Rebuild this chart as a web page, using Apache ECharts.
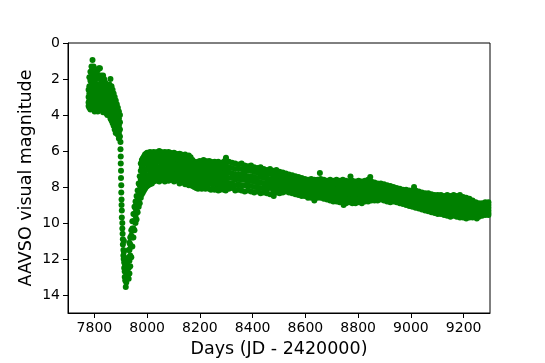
<!DOCTYPE html>
<html>
<head>
<meta charset="utf-8">
<script src="https://cdn.jsdelivr.net/npm/echarts@6/dist/echarts.min.js"></script>
<style>
  html, body { margin: 0; padding: 0; background: #fff; }
  #chart { width: 545px; height: 363px; }
</style>
</head>
<body>
<div id="chart"></div>
<script>
// tick labels
const xTicks = [7800, 8000, 8200, 8400, 8600, 8800, 9000, 9200];
const yTicks = [0, 2, 4, 6, 8, 10, 12, 14];

// light curve: each row is [day, mag, mag, ...]
const maximumCols = [
  [7778, 2.6, 3.0, 3.3, 3.5],
  [7781, 1.9, 2.4, 2.8, 3.2, 3.6],
  [7785, 1.6, 2.1, 2.6, 3.0, 3.4, 3.7],
  [7789, 1.3, 1.8, 2.3, 2.8, 3.2, 3.6],
  [7793, 0.95, 1.4, 2.0, 2.5, 3.0, 3.4],
  [7797, 1.3, 1.8, 2.2, 2.7, 3.1, 3.6],
  [7801, 1.7, 2.1, 2.5, 2.9, 3.3, 3.8],
  [7805, 1.9, 2.3, 2.7, 3.1, 3.5],
  [7809, 1.6, 2.0, 2.4, 2.8, 3.2, 3.7],
  [7813, 1.5, 1.9, 2.4, 2.9, 3.4, 3.8],
  [7817, 1.4, 1.8, 2.3, 2.7, 3.2, 3.6],
  [7821, 1.4, 2.0, 2.5, 2.9, 3.3, 3.7],
  [7825, 1.8, 2.3, 2.7, 3.1, 3.5],
  [7829, 2.1, 2.4, 2.8, 3.2, 3.6],
  [7833, 1.8, 2.2, 2.6, 3.0, 3.4, 3.85],
  [7837, 2.0, 2.4, 2.8, 3.2, 3.6],
  [7841, 2.2, 2.6, 3.0, 3.4, 3.8],
  [7845, 2.3, 2.7, 3.1, 3.5, 3.9],
  [7849, 2.5, 2.8, 3.2, 3.6, 4.0],
  [7853, 2.4, 2.8, 3.1, 3.5, 3.9],
  [7857, 2.3, 2.7, 3.1, 3.5, 4.0],
  [7861, 2.0, 2.5, 2.9, 3.4, 3.8, 4.2],
  [7865, 2.4, 2.8, 3.2, 3.6, 4.0, 4.3],
  [7869, 2.6, 3.0, 3.4, 3.8, 4.1, 4.45],
  [7873, 2.8, 3.2, 3.6, 4.0, 4.3, 4.6],
  [7877, 3.0, 3.4, 3.8, 4.2, 4.6, 4.8],
  [7881, 3.2, 3.6, 4.0, 4.4, 4.8, 5.0],
  [7885, 3.4, 3.8, 4.2, 4.6, 5.0],
  [7889, 3.6, 4.0, 4.4, 4.8, 5.1],
  [7893, 3.8, 4.2, 4.6, 5.0, 5.3],
  [7897, 4.0, 4.4, 4.8, 5.2]
];

const declineCols = [
  [7899, 5.5, 5.9],
  [7900, 6.3, 6.7],
  [7901, 7.1, 7.5],
  [7902, 7.9, 8.3],
  [7903, 8.7, 9.0],
  [7904, 9.3, 9.7],
  [7906, 10.0, 10.3],
  [7907, 10.6],
  [7908, 10.9, 11.2],
  [7910, 11.5, 11.8],
  [7911, 12.0],
  [7912, 11.0, 11.6],
  [7913, 12.2, 12.5],
  [7915, 12.7, 13.0],
  [7916, 12.0, 12.4],
  [7917, 13.2],
  [7919, 13.55]
];

const recoveryCols = [
  [7921, 13.3, 12.9],
  [7924, 13.1, 12.6, 12.3],
  [7927, 12.9, 12.4, 12.0],
  [7930, 13.1, 12.5, 11.9, 11.5],
  [7933, 12.8, 12.1, 11.5, 11.1],
  [7936, 12.4, 11.8, 11.2, 10.8],
  [7940, 11.9, 11.3, 10.7, 10.4],
  [7944, 11.3, 10.8, 10.3, 9.9],
  [7948, 10.8, 10.3, 9.9, 9.5],
  [7952, 10.4, 9.9, 9.5, 9.1],
  [7956, 10.0, 9.6, 9.2, 8.8],
  [7960, 9.8, 9.3, 8.9, 8.5],
  [7964, 9.4, 9.0, 8.6, 8.2],
  [7968, 9.1, 8.7, 8.2, 7.8],
  [7972, 8.9, 8.4, 7.9, 7.4],
  [7976, 8.6, 8.1, 7.6, 7.1, 6.7],
  [7980, 8.4, 7.9, 7.4, 6.9, 6.5],
  [7984, 8.3, 7.8, 7.3, 6.8, 6.4],
  [7988, 8.2, 7.7, 7.2, 6.7, 6.3],
  [7992, 8.1, 7.6, 7.1, 6.6, 6.2],
  [7996, 8.0, 7.5, 7.0, 6.5, 6.15],
  [8000, 7.95, 7.5, 7.0, 6.5, 6.1]
];

const plateauCols = [
  [8004, 6.15, 6.45, 6.75, 7.05, 7.35, 7.65, 7.9],
  [8011, 6.05, 6.35, 6.7, 7.0, 7.3, 7.6, 7.85],
  [8018, 6.1, 6.4, 6.65, 6.95, 7.25, 7.5, 7.8],
  [8025, 6.05, 6.35, 6.6, 6.9, 7.2, 7.45, 7.7],
  [8032, 6.1, 6.4, 6.7, 7.0, 7.3, 7.6],
  [8039, 6.05, 6.3, 6.6, 6.9, 7.15, 7.4, 7.65],
  [8046, 6.0, 6.3, 6.6, 6.9, 7.2, 7.5, 7.7],
  [8053, 6.05, 6.35, 6.65, 6.95, 7.25, 7.55],
  [8060, 6.1, 6.4, 6.7, 7.0, 7.3, 7.6],
  [8067, 6.05, 6.35, 6.6, 6.9, 7.2, 7.45, 7.7],
  [8074, 6.1, 6.4, 6.7, 7.0, 7.3, 7.55],
  [8081, 6.05, 6.3, 6.6, 6.9, 7.2, 7.5, 7.65],
  [8088, 6.1, 6.4, 6.7, 7.0, 7.3, 7.6],
  [8095, 6.15, 6.45, 6.75, 7.05, 7.35, 7.6],
  [8102, 6.1, 6.4, 6.7, 7.0, 7.3, 7.55, 7.7],
  [8109, 6.15, 6.45, 6.75, 7.0, 7.3, 7.6],
  [8116, 6.2, 6.5, 6.8, 7.1, 7.4, 7.65],
  [8123, 6.15, 6.45, 6.75, 7.05, 7.35, 7.65, 7.8],
  [8130, 6.2, 6.5, 6.8, 7.1, 7.4, 7.7],
  [8137, 6.25, 6.55, 6.85, 7.15, 7.45, 7.75],
  [8144, 6.2, 6.5, 6.8, 7.1, 7.4, 7.7, 7.85],
  [8151, 6.3, 6.6, 6.9, 7.2, 7.5, 7.8],
  [8158, 6.25, 6.55, 6.85, 7.15, 7.45, 7.75, 7.9],
  [8165, 6.35, 6.65, 6.95, 7.25, 7.55, 7.85],
  [8172, 6.5, 6.8, 7.1, 7.4, 7.7, 7.95],
  [8179, 6.6, 6.9, 7.2, 7.5, 7.8, 8.0],
  [8186, 6.65, 6.95, 7.25, 7.55, 7.85, 8.05],
  [8193, 6.6, 6.9, 7.2, 7.5, 7.8, 8.1],
  [8200, 6.55, 6.85, 7.15, 7.45, 7.75, 8.05],
  [8207, 6.6, 6.9, 7.2, 7.5, 7.8, 8.1],
  [8214, 6.5, 6.8, 7.1, 7.4, 7.7, 8.0],
  [8221, 6.55, 6.85, 7.15, 7.45, 7.75, 8.1],
  [8228, 6.6, 6.9, 7.2, 7.5, 7.8, 8.05],
  [8235, 6.55, 6.85, 7.15, 7.45, 7.75, 8.1],
  [8242, 6.6, 6.9, 7.2, 7.5, 7.8, 8.15],
  [8249, 6.65, 6.95, 7.25, 7.55, 7.85, 8.1],
  [8256, 6.6, 6.9, 7.2, 7.5, 7.8, 8.15],
  [8263, 6.65, 6.95, 7.25, 7.55, 7.85, 8.1],
  [8270, 6.6, 6.9, 7.2, 7.5, 7.8, 8.2],
  [8277, 6.7, 7.0, 7.3, 7.6, 7.9, 8.15],
  [8284, 6.65, 6.95, 7.25, 7.55, 7.85, 8.1],
  [8291, 6.6, 6.9, 7.2, 7.5, 7.8, 8.15],
  [8298, 6.45, 6.75, 7.05, 7.35, 7.65, 7.95, 8.2]
];

const fadeCols = [
  [8310, 6.6, 6.9, 7.2, 7.5, 7.8, 8.1],
  [8322, 6.65, 6.95, 7.25, 7.5, 7.8, 8.05],
  [8334, 6.7, 7.0, 7.3, 7.6, 7.9, 8.2],
  [8346, 6.75, 7.0, 7.3, 7.55, 7.85, 8.15],
  [8358, 6.7, 7.0, 7.3, 7.6, 7.9, 8.2],
  [8370, 6.8, 7.1, 7.35, 7.6, 7.9, 8.25],
  [8382, 6.85, 7.1, 7.4, 7.7, 7.95, 8.2],
  [8394, 6.8, 7.1, 7.4, 7.65, 7.95, 8.25],
  [8406, 6.9, 7.15, 7.45, 7.7, 8.0, 8.3],
  [8418, 6.95, 7.2, 7.5, 7.75, 8.0, 8.25],
  [8430, 6.9, 7.2, 7.45, 7.75, 8.05, 8.35],
  [8442, 7.0, 7.25, 7.5, 7.8, 8.05, 8.3],
  [8454, 7.05, 7.3, 7.55, 7.8, 8.1, 8.35],
  [8466, 7.0, 7.25, 7.55, 7.8, 8.05, 8.4],
  [8478, 7.1, 7.35, 7.6, 7.85, 8.1, 8.35],
  [8490, 7.05, 7.3, 7.6, 7.85, 8.1, 8.3],
  [8502, 7.15, 7.4, 7.65, 7.9, 8.15, 8.35],
  [8514, 7.2, 7.45, 7.7, 7.9, 8.1, 8.3],
  [8526, 7.25, 7.45, 7.7, 7.95, 8.15, 8.25],
  [8538, 7.3, 7.5, 7.75, 7.95, 8.2, 8.3],
  [8550, 7.35, 7.55, 7.8, 8.0, 8.2, 8.35],
  [8562, 7.4, 7.6, 7.8, 8.0, 8.2, 8.4],
  [8574, 7.45, 7.65, 7.85, 8.05, 8.25, 8.45],
  [8586, 7.5, 7.7, 7.9, 8.1, 8.3, 8.5],
  [8598, 7.55, 7.75, 7.95, 8.15, 8.35, 8.5],
  [8610, 7.6, 7.8, 8.0, 8.2, 8.4, 8.6],
  [8622, 7.55, 7.75, 8.0, 8.2, 8.4, 8.6],
  [8634, 7.6, 7.8, 8.0, 8.25, 8.5, 8.75],
  [8646, 7.6, 7.8, 8.0, 8.2, 8.4, 8.6],
  [8658, 7.55, 7.8, 8.0, 8.2, 8.4, 8.6],
  [8670, 7.6, 7.8, 8.05, 8.25, 8.45, 8.65],
  [8682, 7.65, 7.85, 8.05, 8.25, 8.5, 8.7],
  [8694, 7.6, 7.8, 8.05, 8.3, 8.5, 8.75],
  [8706, 7.65, 7.85, 8.1, 8.3, 8.55, 8.8],
  [8718, 7.6, 7.85, 8.1, 8.35, 8.6, 8.8],
  [8730, 7.65, 7.9, 8.15, 8.4, 8.6, 8.85],
  [8742, 7.6, 7.85, 8.1, 8.35, 8.6, 8.85],
  [8754, 7.65, 7.9, 8.15, 8.4, 8.65, 8.9],
  [8766, 7.7, 7.95, 8.2, 8.4, 8.65, 8.85],
  [8778, 7.65, 7.9, 8.15, 8.4, 8.65, 8.9],
  [8790, 7.7, 7.95, 8.2, 8.45, 8.7, 8.9],
  [8802, 7.65, 7.9, 8.15, 8.4, 8.65, 8.85],
  [8814, 7.7, 7.95, 8.2, 8.45, 8.65, 8.9],
  [8826, 7.65, 7.9, 8.15, 8.35, 8.6, 8.8],
  [8838, 7.6, 7.85, 8.1, 8.35, 8.55, 8.8],
  [8850, 7.7, 7.95, 8.15, 8.4, 8.6, 8.75],
  [8862, 7.75, 7.95, 8.2, 8.4, 8.6, 8.75],
  [8874, 7.8, 8.0, 8.2, 8.4, 8.6, 8.75],
  [8886, 7.8, 8.0, 8.2, 8.4, 8.55, 8.7],
  [8898, 7.85, 8.05, 8.25, 8.45, 8.6, 8.75],
  [8910, 7.9, 8.1, 8.3, 8.45, 8.6, 8.8],
  [8922, 7.95, 8.15, 8.3, 8.5, 8.65, 8.85],
  [8934, 8.0, 8.2, 8.35, 8.5, 8.7, 8.8],
  [8946, 8.05, 8.2, 8.4, 8.55, 8.7, 8.85],
  [8958, 8.1, 8.25, 8.4, 8.6, 8.75, 8.9],
  [8970, 8.15, 8.3, 8.45, 8.65, 8.8, 8.95],
  [8982, 8.15, 8.35, 8.5, 8.7, 8.85, 9.0],
  [8994, 8.2, 8.35, 8.55, 8.7, 8.9, 9.05],
  [9006, 8.2, 8.4, 8.6, 8.8, 8.95, 9.1],
  [9018, 8.2, 8.4, 8.6, 8.8, 9.0, 9.15],
  [9030, 8.25, 8.45, 8.65, 8.85, 9.05, 9.2],
  [9042, 8.3, 8.5, 8.7, 8.9, 9.1, 9.25],
  [9054, 8.35, 8.55, 8.75, 8.95, 9.15, 9.3],
  [9066, 8.35, 8.55, 8.75, 8.95, 9.15, 9.35],
  [9078, 8.4, 8.6, 8.8, 9.0, 9.2, 9.4],
  [9090, 8.45, 8.65, 8.85, 9.05, 9.25, 9.45],
  [9102, 8.45, 8.65, 8.85, 9.05, 9.25, 9.5],
  [9114, 8.45, 8.65, 8.85, 9.1, 9.3, 9.5],
  [9126, 8.5, 8.7, 8.9, 9.1, 9.35, 9.55],
  [9138, 8.45, 8.65, 8.9, 9.1, 9.35, 9.6],
  [9150, 8.5, 8.7, 8.9, 9.15, 9.4, 9.65],
  [9162, 8.45, 8.7, 8.95, 9.15, 9.4, 9.6],
  [9174, 8.5, 8.75, 8.95, 9.2, 9.45, 9.65],
  [9186, 8.45, 8.7, 8.95, 9.2, 9.45, 9.7],
  [9198, 8.55, 8.8, 9.0, 9.25, 9.5, 9.7],
  [9210, 8.6, 8.8, 9.05, 9.25, 9.5, 9.75],
  [9222, 8.65, 8.85, 9.05, 9.3, 9.5, 9.7],
  [9234, 8.75, 8.95, 9.15, 9.35, 9.55, 9.7],
  [9246, 8.85, 9.0, 9.2, 9.35, 9.55, 9.65],
  [9258, 8.9, 9.05, 9.2, 9.4, 9.55, 9.65],
  [9270, 8.9, 9.05, 9.2, 9.35, 9.5, 9.6],
  [9282, 8.85, 9.0, 9.15, 9.3, 9.45, 9.55],
  [9294, 8.85, 9.0, 9.15, 9.3, 9.45, 9.55]
];

// lone points sitting off the main band
const stragglers = [
  [8299, 6.37], [8480, 8.5], [8655, 7.22], [8745, 9.0], [8771, 7.42],
  [8846, 7.45], [9012, 8.0], [9250, 9.75]
];

const font = 'DejaVu Sans';

function flatten(cols) {
  const out = [];
  cols.forEach(c => {
    for (let i = 1; i < c.length; i++) out.push([c[0], c[i]]);
  });
  return out;
}

const points = []
  .concat(flatten(maximumCols))
  .concat(flatten(declineCols))
  .concat(flatten(recoveryCols))
  .concat(flatten(plateauCols))
  .concat(flatten(fadeCols))
  .concat(stragglers);

const chart = echarts.init(document.getElementById('chart'));
chart.setOption({
  animation: false,
  grid: {
    left: 68, right: 55, top: 43, bottom: 46,
    show: true, borderColor: '#000', borderWidth: 1
  },
  xAxis: {
    type: 'value',
    min: 7700,
    max: 9300,
    name: 'Days (JD - 2420000)',
    nameLocation: 'middle',
    nameGap: 27,
    nameTextStyle: { fontSize: 17.5, color: '#000', fontFamily: font },
    axisLine: { show: true, onZero: false, lineStyle: { color: '#000', width: 1 } },
    axisTick: { show: true, length: 5, customValues: xTicks, lineStyle: { color: '#000' } },
    axisLabel: {
      customValues: xTicks, fontSize: 14, color: '#000', margin: 8, fontFamily: font,
      formatter: v => String(v)  // no thousands comma
    },
    splitLine: { show: false }
  },
  yAxis: {
    type: 'value',
    inverse: true,
    min: 0,
    max: 15,
    name: 'AAVSO visual magnitude',
    nameLocation: 'middle',
    nameRotate: 90,
    nameGap: 33,
    nameMoveOverlap: false,
    nameTextStyle: { fontSize: 17.5, color: '#000', fontFamily: font },
    axisLine: { show: true, onZero: false, lineStyle: { color: '#000', width: 1 } },
    axisTick: { show: true, length: 5, customValues: yTicks, lineStyle: { color: '#000' } },
    axisLabel: { customValues: yTicks, fontSize: 14, color: '#000', margin: 8, fontFamily: font },
    splitLine: { show: false }
  },
  series: [{
    type: 'scatter',
    symbolSize: 6,
    itemStyle: { color: '#008000', opacity: 1 },
    clip: true,
    data: points
  }]
});
</script>
</body>
</html>
